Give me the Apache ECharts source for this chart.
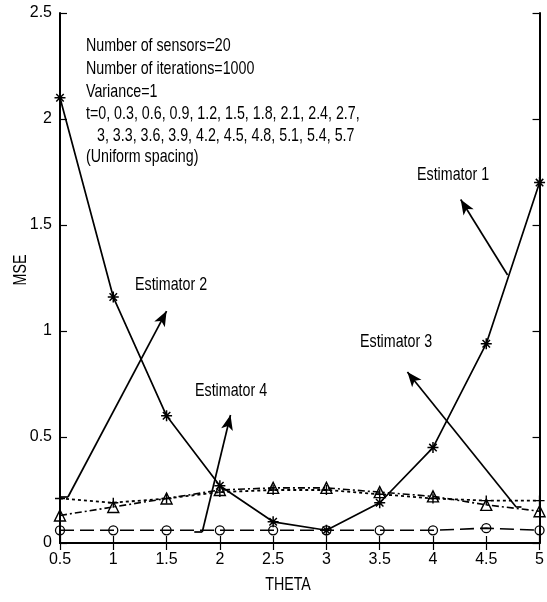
<!DOCTYPE html>
<html>
<head>
<meta charset="utf-8">
<script src="https://cdn.jsdelivr.net/npm/echarts@6/dist/echarts.min.js"></script>
<style>
  html, body { margin: 0; padding: 0; background: #fff; }
  #chart { width: 547px; height: 602px; }
</style>
</head>
<body>
<div id="chart"></div>
<script>
// THETA values and MSE curves for the four estimators
const theta = [0.5, 1, 1.5, 2, 2.5, 3, 3.5, 4, 4.5, 5];
const estimator1 = [2.10, 1.16, 0.60, 0.27, 0.10, 0.06, 0.19, 0.45, 0.94, 1.70];
const estimator2 = [0.21, 0.19, 0.21, 0.24, 0.25, 0.25, 0.23, 0.21, 0.20, 0.20];
const estimator3 = [0.13, 0.17, 0.21, 0.25, 0.26, 0.26, 0.24, 0.22, 0.18, 0.15];
const estimator4 = [0.06, 0.06, 0.06, 0.06, 0.06, 0.06, 0.06, 0.06, 0.07, 0.06];

// Simulation settings printed inside the axes
const infoLines = [
  'Number of sensors=20',
  'Number of iterations=1000',
  'Variance=1',
  't=0, 0.3, 0.6, 0.9, 1.2, 1.5, 1.8, 2.1, 2.4, 2.7,',
  '3, 3.3, 3.6, 3.9, 4.2, 4.5, 4.8, 5.1, 5.4, 5.7',
  '(Uniform spacing)'
];

// Callout arrows: tail start, arrow base and arrow tip in data units
const callouts = [
  { name: 'Estimator 1', tail: null,           base: [4.70, 1.264], tip: [4.26, 1.62] },
  { name: 'Estimator 2', tail: [0.50, 0.217],  base: [0.575, 0.217], tip: [1.50, 1.094] },
  { name: 'Estimator 3', tail: [4.83, 0.17],   base: [4.78, 0.17],  tip: [3.76, 0.807] },
  { name: 'Estimator 4', tail: [1.76, 0.052],  base: [1.835, 0.052], tip: [2.10, 0.604] }
];

const FONT = '"Liberation Sans", Arial, sans-serif';
const BLACK = '#000';
const NARROW = 0.75; // horizontal squeeze for the condensed annotation lettering

const pairs = (ys) => theta.map((x, i) => [x, ys[i]]);

const starPath = 'path://M5,0L5,10M0,5L10,5M1.6,1.6L8.4,8.4M1.6,8.4L8.4,1.6';
const plusPath = 'path://M5,0L5,10M0,5L10,5';

const markLineData = [];
callouts.forEach(c => {
  markLineData.push([
    { coord: c.base, symbol: 'none' },
    { coord: c.tip, symbol: 'arrow', symbolSize: [9, 15] }
  ]);
  if (c.tail) {
    markLineData.push([
      { coord: c.tail, symbol: 'none' },
      { coord: c.base, symbol: 'none' }
    ]);
  }
});

const chart = echarts.init(document.getElementById('chart'), null, { renderer: 'canvas' });

const axisLineStyle = { color: BLACK, width: 2 };
const tickStyle = { show: true, inside: true, length: 7, lineStyle: { color: BLACK, width: 1.2 } };

function narrowText(x, y, text, opts) {
  return Object.assign({
    type: 'text', x: x, y: y, scaleX: NARROW,
    style: { text: text, font: '19px ' + FONT, fill: BLACK, align: 'left', verticalAlign: 'middle' }
  }, opts || {});
}

const infoY = [46, 68.5, 91.5, 114, 135.5, 157];
const infoX = [86, 86, 86, 86, 97, 86];

const graphics = infoLines.map((t, i) => narrowText(infoX[i], infoY[i], t));
const labelPos = [[417, 174.5], [135, 285], [360, 342], [195, 390.5]];
callouts.forEach((c, i) => {
  graphics.push(narrowText(labelPos[i][0], labelPos[i][1], c.name));
});
graphics.push({
  type: 'text', x: 288, y: 585, scaleX: NARROW,
  style: { text: 'THETA', font: '19px ' + FONT, fill: BLACK, align: 'center', verticalAlign: 'middle' }
});
graphics.push({
  type: 'text', x: 21, y: 270, rotation: Math.PI / 2, scaleX: NARROW,
  style: { text: 'MSE', font: '19px ' + FONT, fill: BLACK, align: 'center', verticalAlign: 'middle' }
});

chart.setOption({
  animation: false,
  backgroundColor: '#fff',
  grid: { left: 60, right: 5, top: 13, bottom: 59, containLabel: false },
  xAxis: [
    {
      type: 'value', min: 0.5, max: 5, interval: 0.5, position: 'bottom',
      axisLine: { show: true, lineStyle: axisLineStyle },
      axisTick: tickStyle,
      axisLabel: { color: BLACK, fontFamily: FONT, fontSize: 16, margin: 9 },
      splitLine: { show: false }
    },
    {
      type: 'value', min: 0.5, max: 5, interval: 0.5, position: 'top',
      axisLine: { show: true, lineStyle: axisLineStyle },
      axisTick: tickStyle,
      axisLabel: { show: false },
      splitLine: { show: false }
    }
  ],
  yAxis: [
    {
      type: 'value', min: 0, max: 2.5, interval: 0.5, position: 'left',
      axisLine: { show: true, lineStyle: axisLineStyle },
      axisTick: tickStyle,
      axisLabel: { color: BLACK, fontFamily: FONT, fontSize: 16, margin: 8 },
      splitLine: { show: false }
    },
    {
      type: 'value', min: 0, max: 2.5, interval: 0.5, position: 'right',
      axisLine: { show: true, lineStyle: axisLineStyle },
      axisTick: tickStyle,
      axisLabel: { show: false },
      splitLine: { show: false }
    }
  ],
  series: [
    {
      name: 'Estimator 4', type: 'line', data: pairs(estimator4),
      symbol: 'circle', symbolSize: 9,
      itemStyle: { color: 'transparent', borderColor: BLACK, borderWidth: 1.3 },
      lineStyle: { color: BLACK, width: 1.6, type: [14, 6] }
    },
    {
      name: 'Estimator 3', type: 'line', data: pairs(estimator3),
      symbol: 'triangle', symbolSize: 11,
      itemStyle: { color: 'transparent', borderColor: BLACK, borderWidth: 1.4 },
      lineStyle: { color: BLACK, width: 1.6, type: [7, 3, 2, 3] }
    },
    {
      name: 'Estimator 2', type: 'line', data: pairs(estimator2),
      symbol: plusPath, symbolSize: 10,
      itemStyle: { color: 'transparent', borderColor: BLACK, borderWidth: 1.4 },
      lineStyle: { color: BLACK, width: 1.8, type: [3, 3] }
    },
    {
      name: 'Estimator 1', type: 'line', data: pairs(estimator1),
      symbol: starPath, symbolSize: 11,
      itemStyle: { color: 'transparent', borderColor: BLACK, borderWidth: 1.5 },
      lineStyle: { color: BLACK, width: 1.7, type: 'solid' },
      markLine: {
        silent: true, animation: false,
        symbol: ['none', 'arrow'],
        label: { show: false },
        lineStyle: { color: BLACK, width: 1.7, type: 'solid' },
        emphasis: { disabled: true },
        data: markLineData
      }
    }
  ],
  graphic: graphics
});
</script>
</body>
</html>
